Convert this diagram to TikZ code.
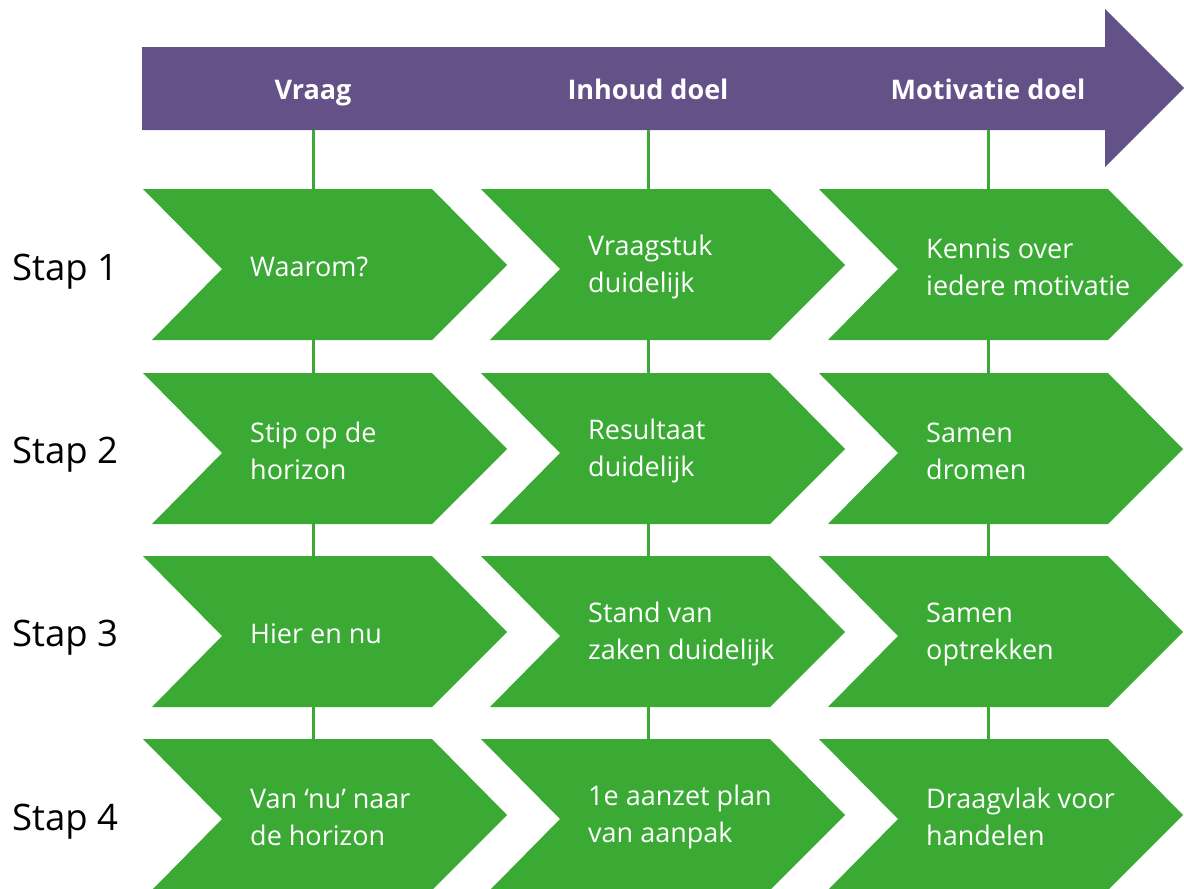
\documentclass[tikz,border=0pt]{standalone}
\usepackage{fontspec}
\setmainfont{Open Sans}
\definecolor{hdrpurple}{HTML}{645188}
\definecolor{chevgreen}{HTML}{3AAA35}
\newcommand\chevshape[3]{% L, T, name
  \fill[chevgreen] (#1,#2) -- ++(289,0) -- ++(75,76) -- ++(-75,75) -- ++(-280,0) -- ++(70,-71) -- cycle;
  \coordinate (#3) at (#1+107,#2+78);
}
\begin{document}
\begin{tikzpicture}[x=1pt,y=-1pt,
  hdrtext/.style={text=white,font=\bfseries\fontsize{27}{30}\selectfont,anchor=base,inner sep=0pt},
  chevtext/.style={text=white,font=\fontsize{27}{37}\selectfont,align=left,anchor=west,inner sep=0pt},
  staptext/.style={text=black,font=\fontsize{36.5}{40}\selectfont,anchor=base west,inner sep=0pt},
  vline/.style={draw=chevgreen,line width=3pt}]
\useasboundingbox (0,0) rectangle (1184,889);
% header arrow
\fill[hdrpurple] (142,47) -- (1105,47) -- (1105,9) -- (1184,88) -- (1105,167) -- (1105,130) -- (142,130) -- cycle;
\node[hdrtext] (h1) at (313,99) {Vraag};
\node[hdrtext] (h2) at (648,99) {Inhoud doel};
\node[hdrtext] (h3) at (988,99) {Motivatie doel};
% vertical lines
\coordinate (t1) at (313,130); \coordinate (b1) at (313,889);
\coordinate (t2) at (648,130); \coordinate (b2) at (648,889);
\coordinate (t3) at (988,130); \coordinate (b3) at (988,889);
\draw[vline] (t1) -- (b1);
\draw[vline] (t2) -- (b2);
\draw[vline] (t3) -- (b3);
% chevrons
\chevshape{143}{189}{p11}\chevshape{481}{189}{p12}\chevshape{819}{189}{p13}
\chevshape{143}{373}{p21}\chevshape{481}{373}{p22}\chevshape{819}{373}{p23}
\chevshape{143}{556}{p31}\chevshape{481}{556}{p32}\chevshape{819}{556}{p33}
\chevshape{143}{739}{p41}\chevshape{481}{739}{p42}\chevshape{819}{739}{p43}
\node[chevtext] (c11) at (p11) {Waarom?};
\node[chevtext] (c12) at (p12) {Vraagstuk\\duidelijk};
\node[chevtext] (c13) at (p13) {Kennis over\\iedere motivatie};
\node[chevtext] (c21) at (p21) {Stip op de\\horizon};
\node[chevtext] (c22) at (p22) {Resultaat\\duidelijk};
\node[chevtext] (c23) at (p23) {Samen\\dromen};
\node[chevtext] (c31) at (p31) {Hier en nu};
\node[chevtext] (c32) at (p32) {Stand van\\zaken duidelijk};
\node[chevtext] (c33) at (p33) {Samen\\optrekken};
\node[chevtext] (c41) at (p41) {Van ‘nu’ naar\\de horizon};
\node[chevtext] (c42) at (p42) {1e aanzet plan\\van aanpak};
\node[chevtext] (c43) at (p43) {Draagvlak voor\\handelen};
% step labels
\node[staptext] (s1) at (12,280) {Stap 1};
\node[staptext] (s2) at (12,463) {Stap 2};
\node[staptext] (s3) at (12,646) {Stap 3};
\node[staptext] (s4) at (12,830) {Stap 4};
\end{tikzpicture}
\end{document}
